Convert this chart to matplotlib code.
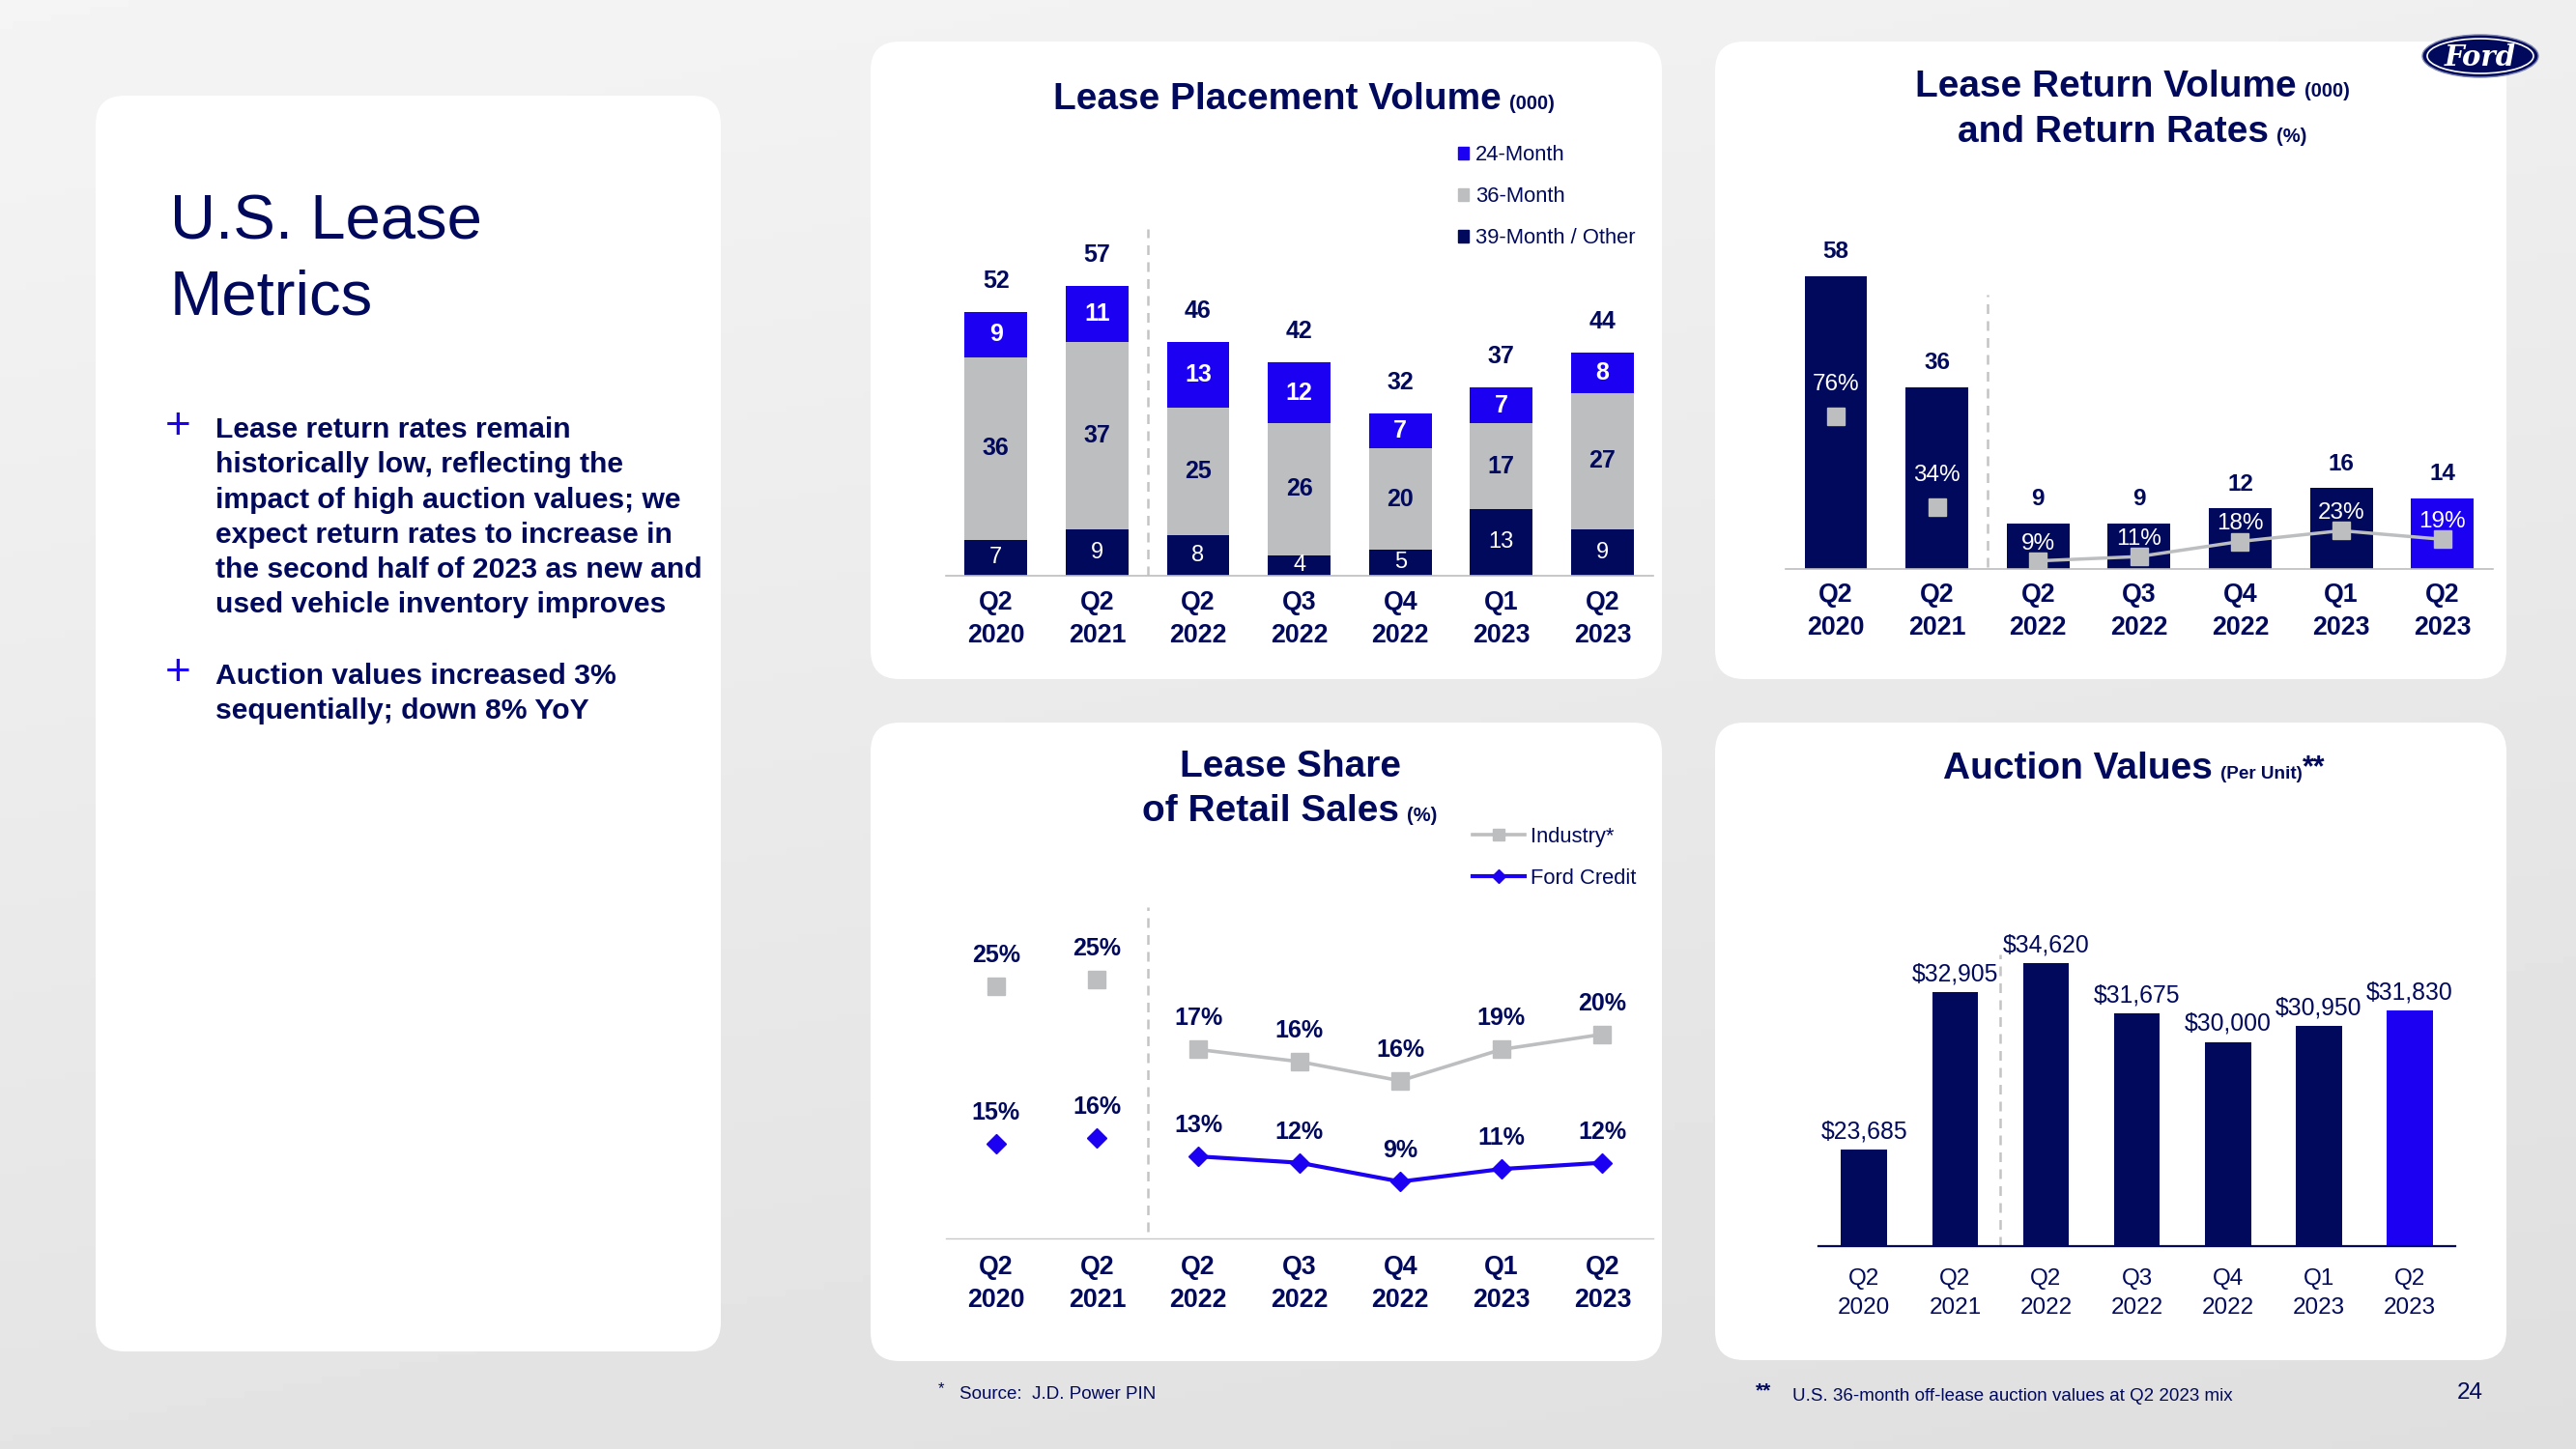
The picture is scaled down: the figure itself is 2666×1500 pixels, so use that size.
import numpy as np
import matplotlib
matplotlib.use("Agg")
import matplotlib.pyplot as plt
from matplotlib.patches import FancyBboxPatch, Ellipse, Patch
from matplotlib.lines import Line2D

plt.rcParams["font.family"] = ["Liberation Sans", "DejaVu Sans"]

W, H = 2666, 1500
NAVY = "#00095B"
BLUE = "#1B00F2"
GRAY = "#BDBEC0"
DASH = "#C4C4C4"

# ---- data ----
quarters = ["Q2\n2020", "Q2\n2021", "Q2\n2022", "Q3\n2022", "Q4\n2022", "Q1\n2023", "Q2\n2023"]

place_39 = [7, 9, 8, 4, 5, 13, 9]
place_36 = [36, 37, 25, 26, 20, 17, 27]
place_24 = [9, 11, 13, 12, 7, 7, 8]
place_legend = ["24-Month", "36-Month", "39-Month / Other"]

return_volume = [58, 36, 9, 9, 12, 16, 14]
return_rate = [76, 34, 9, 11, 18, 23, 19]

ford_share = [15, 16, 13, 12, 9, 11, 12]
industry_share = [25.0, 25.6, 18.7, 17.5, 15.6, 18.7, 20.2]   # as plotted
industry_labels = ["25%", "25%", "17%", "16%", "16%", "19%", "20%"]
share_legend = ["Industry*", "Ford Credit"]

auction = [23685, 32905, 34620, 31675, 30000, 30950, 31830]

x = np.arange(len(quarters))
split = 1.5          # dashed divider between yearly and quarterly points
last = len(quarters) - 1

fig = plt.figure(figsize=(W / 100, H / 100), dpi=100)

# page layer in pixel coordinates (y down)
bg = fig.add_axes([0, 0, 1, 1])
gx, gy = np.meshgrid(np.linspace(0, 1, 200), np.linspace(0, 1, 200))
shade = 0.958 - 0.085 * (0.75 * gy + 0.25 * gx)
bg.imshow(shade, cmap="gray", vmin=0, vmax=1, extent=(0, W, H, 0), aspect="auto", zorder=0)
bg.set_xlim(0, W)
bg.set_ylim(H, 0)
bg.axis("off")


def panel(x0, y0, x1, y1):
    bg.add_patch(FancyBboxPatch((x0, y0), x1 - x0, y1 - y0,
                                boxstyle="round,pad=0,rounding_size=30",
                                fc="white", ec="none", zorder=1))


def px_axes(left, top, right, bottom):
    ax = fig.add_axes([left / W, 1 - bottom / H, (right - left) / W, (bottom - top) / H])
    ax.patch.set_alpha(0)
    for s in ax.spines.values():
        s.set_visible(False)
    ax.set_yticks([])
    return ax


def title(tx, ty, main, small, small_size=14.5):
    t = bg.text(tx, ty, main, fontsize=28, fontweight="bold", color=NAVY,
                ha="center", va="baseline", zorder=3)
    s = None
    if small:
        s = bg.annotate(small, xy=(1, 0), xycoords=t, xytext=(6, 3), textcoords="offset points",
                        fontsize=small_size, fontweight="bold", color=NAVY, va="bottom", zorder=3)
    return t, s


def quarter_ticks(ax, bold=True, size=19.3, pad=8, spacing=1.4):
    ax.set_xticks(x, quarters)
    ax.tick_params(axis="x", length=0, pad=pad)
    for lab in ax.get_xticklabels():
        lab.set_fontsize(size)
        lab.set_fontweight("bold" if bold else "normal")
        lab.set_color(NAVY)
        lab.set_linespacing(spacing)


panel(99, 99, 746, 1399)
panel(901, 43, 1720, 703)
panel(1775, 43, 2594, 703)
panel(901, 748, 1720, 1409)
panel(1775, 748, 2594, 1408)

# ---- left text panel ----
bg.text(176, 248, "U.S. Lease", fontsize=47, color=NAVY, va="baseline", zorder=3)
bg.text(176, 326, "Metrics", fontsize=47, color=NAVY, va="baseline", zorder=3)

bullets = [
    ["Lease return rates remain",
     "historically low, reflecting the",
     "impact of high auction values; we",
     "expect return rates to increase in",
     "the second half of 2023 as new and",
     "used vehicle inventory improves"],
    ["Auction values increased 3%",
     "sequentially; down 8% YoY"],
]
starts = [453, 708]
for lines, y0 in zip(bullets, starts):
    bg.text(184, y0 - 11, "+", fontsize=33, color=BLUE, ha="center", va="center", zorder=3)
    for i, line in enumerate(lines):
        bg.text(223, y0 + i * 36.3, line, fontsize=21.7, fontweight="bold", color=NAVY,
                va="baseline", zorder=3)

# ---- Lease Placement Volume ----
title(1322, 113, "Lease Placement Volume", "(000)")
ax1 = px_axes(978.5, 130, 1710.7, 595.6)
ax1.set_xlim(-0.5, 6.5)
ax1.set_ylim(0, (595.6 - 130) / 5.25)
bottom36 = np.array(place_39)
bottom24 = bottom36 + np.array(place_36)
b39 = ax1.bar(x, place_39, width=0.62, color=NAVY)
b36 = ax1.bar(x, place_36, width=0.62, bottom=bottom36, color=GRAY)
b24 = ax1.bar(x, place_24, width=0.62, bottom=bottom24, color=BLUE)
ax1.bar_label(b39, label_type="center", color="white", fontsize=17)
ax1.bar_label(b36, label_type="center", color=NAVY, fontsize=18, fontweight="bold")
ax1.bar_label(b24, label_type="center", color="white", fontsize=18, fontweight="bold")
totals = bottom24 + np.array(place_24)
for xi, t in zip(x, totals):
    ax1.annotate(str(t), (xi, t), xytext=(0, 23), textcoords="offset points",
                 ha="center", va="center", fontsize=18, fontweight="bold", color=NAVY)
ax1.spines["bottom"].set_visible(True)
ax1.spines["bottom"].set_color(GRAY)
ax1.spines["bottom"].set_linewidth(1.2)
ax1.axvline(split, ymin=0, ymax=0.771, color=DASH, lw=1.8, dashes=(4, 3))
quarter_ticks(ax1, pad=11)
ax1.legend([Patch(color=BLUE), Patch(color=GRAY), Patch(color=NAVY)], place_legend,
           loc="upper left", bbox_to_anchor=(1508.8, 150), bbox_transform=bg.transData,
           frameon=False, fontsize=15.8, handlelength=0.53, handleheight=0.53,
           handletextpad=0.3, labelspacing=1.0, borderpad=0, borderaxespad=0,
           labelcolor=NAVY)

# ---- Lease Return Volume and Return Rates ----
title(2179, 100, "Lease Return Volume", "(000)")
title(2187, 147, "and Return Rates", "(%)")
ax2 = px_axes(1847.7, 200, 2580, 589)
ax2.set_xlim(-0.5, 6.5)
ax2.set_ylim(0, (589 - 200) / 5.23)
vol_colors = [BLUE if i == last else NAVY for i in x]
ax2.bar(x, return_volume, width=0.62, color=vol_colors)
for xi, v in zip(x, return_volume):
    ax2.annotate(str(v), (xi, v), xytext=(0, 18), textcoords="offset points",
                 ha="center", va="center", fontsize=17.5, fontweight="bold", color=NAVY)
ax2.spines["bottom"].set_visible(True)
ax2.spines["bottom"].set_color(GRAY)
ax2.spines["bottom"].set_linewidth(1.2)
ax2.axvline(split, ymin=0.005, ymax=(589 - 305) / 389, color=DASH, lw=1.8, dashes=(4, 3))
quarter_ticks(ax2, pad=10)
ax2r = ax2.twinx()
for s in ax2r.spines.values():
    s.set_visible(False)
ax2r.set_yticks([])
ax2r.set_ylim(5.24, 5.24 + (589 - 200) / 2.233)
ax2r.plot(x[:2], return_rate[:2], ls="none", marker="s", ms=12.6, color=GRAY)
ax2r.plot(x[2:], return_rate[2:], lw=2.5, marker="s", ms=12.6, color=GRAY)
for xi, r in zip(x, return_rate):
    off = 23.5 if xi < split else 13
    ax2r.annotate(f"{r}%", (xi, r), xytext=(0, off), textcoords="offset points",
                  ha="center", va="center", fontsize=17.5, color="white")

# ---- Lease Share of Retail Sales ----
title(1335.7, 804, "Lease Share", None)
title(1314.6, 850, "of Retail Sales", "(%)")
ax3 = px_axes(978.5, 900, 1710.7, 1282)
ax3.set_xlim(-0.5, 6.5)
ax3.set_ylim(0, (1282 - 900) / 6.53)
ax3.spines["bottom"].set_visible(True)
ax3.spines["bottom"].set_color("#C8C8C8")
ax3.spines["bottom"].set_linewidth(1.0)
ax3.axvline(split, ymin=7 / 382, ymax=(1282 - 939) / 382, color=DASH, lw=1.8, dashes=(4, 3))
quarter_ticks(ax3, pad=12)
ax3r = ax3.twinx()
for s in ax3r.spines.values():
    s.set_visible(False)
ax3r.set_yticks([])
ax3r.set_ylim(0, (1282 - 900) / 10.46)
ax3r.plot(x[:2], industry_share[:2], ls="none", marker="s", ms=13, color=GRAY)
ax3r.plot(x[2:], industry_share[2:], lw=2.6, marker="s", ms=13, color=GRAY)
for xi, v, lab in zip(x, industry_share, industry_labels):
    ax3r.annotate(lab, (xi, v), xytext=(0, 23), textcoords="offset points",
                  ha="center", va="center", fontsize=18, fontweight="bold", color=NAVY)
ax3r.plot(x[:2], ford_share[:2], ls="none", marker="D", ms=10, color=BLUE,
          transform=ax3.transData)
ax3r.plot(x[2:], ford_share[2:], lw=3, marker="D", ms=10, color=BLUE,
          transform=ax3.transData)
for xi, v in zip(x, ford_share):
    ax3.annotate(f"{v}%", (xi, v), xytext=(0, 23), textcoords="offset points",
                 ha="center", va="center", fontsize=18, fontweight="bold", color=NAVY,
                 zorder=5)
ax3.legend([Line2D([], [], color=GRAY, lw=2.6, marker="s", ms=9),
            Line2D([], [], color=BLUE, lw=3, marker="D", ms=7)], share_legend,
           loc="upper left", bbox_to_anchor=(1523.6, 856), bbox_transform=bg.transData,
           frameon=False, fontsize=15.8, handlelength=2.5, handletextpad=0.24,
           labelspacing=0.98, borderpad=0, borderaxespad=0, labelcolor=NAVY)

# ---- Auction Values ----
t4, s4 = title(2150, 806, "Auction Values", "(Per Unit)", small_size=13.6)
bg.annotate("**", xy=(1, 1), xycoords=s4, xytext=(0, 9), textcoords="offset points",
            fontsize=22, fontweight="bold", color=NAVY, ha="left", va="top", zorder=3)
ax4 = px_axes(1882.2, 900, 2541, 1289.6)
ax4.set_xlim(-0.5, 6.5)
ax4.set_ylim(18044, 18044 + (1289.6 - 900) / 0.01764)
auc_colors = [BLUE if i == last else NAVY for i in x]
ax4.bar(x, auction, width=0.507, color=auc_colors)
for xi, v in zip(x, auction):
    ax4.annotate(f"${v:,}", (xi, v), xytext=(0, 13.5), textcoords="offset points",
                 ha="center", va="center", fontsize=17.8, color=NAVY)
ax4.spines["bottom"].set_visible(True)
ax4.spines["bottom"].set_color(NAVY)
ax4.spines["bottom"].set_linewidth(1.6)
ax4.axvline(split, ymin=0, ymax=(1289.6 - 988) / 389.6, color=DASH, lw=1.8, dashes=(4, 3))
quarter_ticks(ax4, bold=False, size=17.5, pad=17, spacing=1.45)

# ---- footer, logo ----
bg.text(971, 1438, "*", fontsize=12, color=NAVY, va="center", zorder=3)
bg.text(993, 1443, "Source:  J.D. Power PIN", fontsize=13.5, color=NAVY, va="center", zorder=3)
bg.text(1817, 1440, "**", fontsize=15, fontweight="bold", color=NAVY, va="center", zorder=3)
bg.text(1855, 1446, "U.S. 36-month off-lease auction values at Q2 2023 mix", fontsize=13.5,
        color=NAVY, va="center", zorder=3)
bg.text(2570, 1442, "24", fontsize=17.5, color=NAVY, ha="right", va="center", zorder=3)

bg.add_patch(Ellipse((2567, 58), 120, 44, fc=NAVY, ec="#7F86B0", lw=1, zorder=3))
bg.add_patch(Ellipse((2567, 58), 110, 36, fc="none", ec="white", lw=1.2, zorder=4))
bg.text(2567, 59, "Ford", fontsize=21, family="DejaVu Serif", style="italic",
        fontweight="bold", color="white", ha="center", va="center", zorder=5)

fig.savefig("out.png", dpi=100)
